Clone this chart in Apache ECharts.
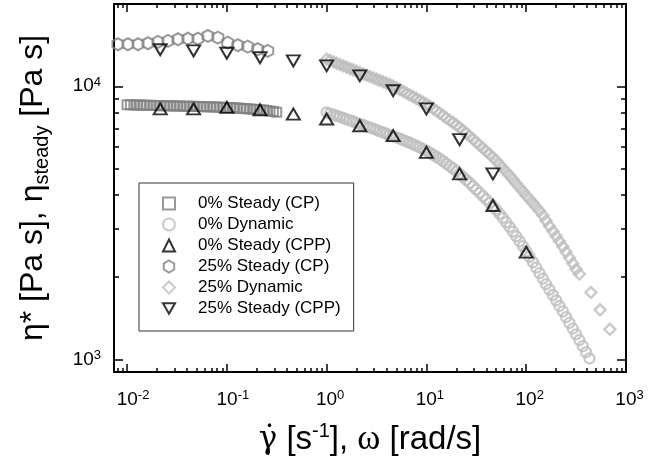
<!DOCTYPE html>
<html>
<head>
<meta charset="utf-8">
<script src="https://cdn.jsdelivr.net/npm/echarts@6/dist/echarts.min.js"></script>
<style>
html, body { margin: 0; padding: 0; background: #fff; }
#chart { width: 667px; height: 469px; }
</style>
</head>
<body>
<div id="chart"></div>
<script>
// 0% Steady (CP)
var cp0Rate = [0.01, 0.0108, 0.0117, 0.0126, 0.0136, 0.0147, 0.0158, 0.0171, 0.0185, 0.02, 0.0215, 0.0233, 0.0251, 0.0271, 0.0293, 0.0316, 0.0341, 0.0369, 0.0398, 0.043, 0.0464, 0.0501, 0.0541, 0.0584, 0.0631, 0.0681, 0.0736, 0.0794, 0.0858, 0.0926, 0.1, 0.108, 0.117, 0.126, 0.136, 0.147, 0.158, 0.171, 0.185, 0.2, 0.215, 0.233, 0.251, 0.271, 0.293, 0.316];
var cp0Eta = [8560, 8553, 8547, 8540, 8533, 8527, 8520, 8513, 8507, 8500, 8493, 8487, 8482, 8477, 8472, 8467, 8462, 8457, 8452, 8447, 8442, 8435, 8428, 8420, 8413, 8405, 8397, 8390, 8382, 8374, 8365, 8355, 8342, 8328, 8312, 8296, 8280, 8262, 8244, 8226, 8208, 8180, 8150, 8118, 8082, 8040];

// 0% Dynamic
var dyn0Freq = [1, 1.08, 1.17, 1.26, 1.36, 1.47, 1.58, 1.71, 1.85, 2, 2.15, 2.33, 2.51, 2.71, 2.93, 3.16, 3.41, 3.69, 3.98, 4.3, 4.64, 5.01, 5.41, 5.84, 6.31, 6.81, 7.36, 7.94, 8.58, 9.26, 10, 10.8, 11.7, 12.6, 13.6, 14.7, 15.8, 17.1, 18.5, 20, 21.5, 23.3, 25.1, 27.1, 29.3, 31.6, 34.1, 36.9, 39.8, 43, 46.4, 50.1, 54.1, 58.4, 63.1, 68.1, 73.6, 79.4, 85.8, 92.6, 100, 108, 117, 126, 136, 147, 158, 171, 185, 200, 215, 233, 251, 271, 293, 316, 341, 369, 398, 430];
var dyn0Eta = [8017, 7943, 7870, 7798, 7727, 7656, 7568, 7499, 7430, 7345, 7278, 7211, 7129, 7063, 6998, 6918, 6839, 6776, 6699, 6622, 6561, 6501, 6427, 6353, 6281, 6209, 6124, 6053, 5970, 5888, 5808, 5715, 5610, 5521, 5420, 5321, 5212, 5105, 5000, 4887, 4775, 4656, 4539, 4426, 4305, 4188, 4074, 3963, 3855, 3741, 3639, 3532, 3412, 3296, 3177, 3055, 2938, 2825, 2710, 2600, 2489, 2377, 2270, 2168, 2070, 1977, 1888, 1803, 1722, 1644, 1570, 1500, 1429, 1361, 1297, 1236, 1178, 1119, 1064, 1009];

// 0% Steady (CPP)
var cpp0Rate = [0.0215, 0.0464, 0.1, 0.215, 0.464, 1, 2.15, 4.64, 10, 21.5, 46.4, 100];
var cpp0Eta = [8260, 8260, 8370, 8200, 7910, 7590, 7170, 6600, 5730, 4780, 3660, 2470];

// 25% Steady (CP)
var cp25Rate = [0.0081, 0.0102, 0.0129, 0.0162, 0.0204, 0.0257, 0.0324, 0.0407, 0.0513, 0.0646, 0.0813, 0.102, 0.129, 0.162, 0.204, 0.257];
var cp25Eta = [14250, 14250, 14250, 14370, 14530, 14650, 14860, 14930, 14930, 15280, 15070, 14450, 14130, 13960, 13660, 13470];

// 25% Dynamic
var dyn25Freq = [1, 1.08, 1.17, 1.26, 1.36, 1.47, 1.58, 1.71, 1.85, 2, 2.15, 2.33, 2.51, 2.71, 2.93, 3.16, 3.41, 3.69, 3.98, 4.3, 4.64, 5.01, 5.41, 5.84, 6.31, 6.81, 7.36, 7.94, 8.58, 9.26, 10, 10.8, 11.7, 12.6, 13.6, 14.7, 15.8, 17.1, 18.5, 20, 21.5, 23.3, 25.1, 27.1, 29.3, 31.6, 34.1, 36.9, 39.8, 43, 46.4, 50.1, 54.1, 58.4, 63.1, 68.1, 73.6, 79.4, 85.8, 92.6, 100, 108, 117, 126, 136, 147, 158, 171, 185, 200, 215, 233, 251, 271, 293, 316, 341, 445, 550, 690];
var dyn25Eta = [12560, 12428, 12286, 12134, 12004, 11877, 11749, 11607, 11474, 11350, 11228, 11100, 10965, 10847, 10732, 10617, 10503, 10383, 10257, 10146, 10023, 9886, 9735, 9588, 9441, 9297, 9157, 9016, 8879, 8745, 8610, 8453, 8293, 8128, 7967, 7811, 7656, 7504, 7356, 7211, 7058, 6897, 6730, 6567, 6408, 6237, 6085, 5933, 5781, 5640, 5491, 5333, 5172, 5016, 4864, 4710, 4560, 4406, 4260, 4119, 3981, 3861, 3738, 3614, 3494, 3363, 3221, 3076, 2944, 2825, 2706, 2588, 2472, 2357, 2247, 2138, 2055, 1760, 1520, 1290];

// 25% Steady (CPP)
var cpp25Rate = [0.0215, 0.0464, 0.1, 0.215, 0.464, 1, 2.15, 4.64, 10, 21.5, 46.4];
var cpp25Eta = [13600, 13470, 13210, 12730, 12390, 11880, 10920, 9630, 8260, 6380, 4780];

// ticks
var xMajorTicks = [0.01, 0.1, 1, 10, 100, 1000];
var xMinorTicks = [0.008, 0.009, 0.02, 0.03, 0.04, 0.05, 0.06, 0.07, 0.08, 0.09, 0.2, 0.3, 0.4, 0.5, 0.6, 0.7, 0.8, 0.9, 2, 3, 4, 5, 6, 7, 8, 9, 20, 30, 40, 50, 60, 70, 80, 90, 200, 300, 400, 500, 600, 700, 800, 900];
var yMajorTicks = [1000, 10000];
var yMinorTicks = [2000, 3000, 4000, 5000, 6000, 7000, 8000, 9000];

var FONT = '"Liberation Sans", Arial, sans-serif';
var SERIF = '"DejaVu Serif", "Liberation Serif", serif';
var HEX = 'path://M0,-10 L8.66,-5 L8.66,5 L0,10 L-8.66,5 L-8.66,-5 Z';
var DOWN = 'path://M0,0 L12,0 L6,10.4 Z';
var NOFILL = 'rgba(0,0,0,0)';
var GREY = '#808080';
var LIGHT = '#bdbdbd';

function pairs(xs, ys) {
    var out = [];
    for (var i = 0; i < xs.length; i++) out.push([xs[i], ys[i]]);
    return out;
}

function exponent(v) {
    return Math.round(Math.log(v) / Math.LN10);
}

// x labels: keep "10" centred on the tick, the exponent hangs to the right
function xLabel(v) {
    var e = exponent(v);
    return '{' + (e < 0 ? 'pn' : 'pp') + '| }{b|10}{s|' + e + '}';
}
function yLabel(v) {
    return '{b|10}{s|' + exponent(v) + '}';
}

var labelRich = {
    b: { fontSize: 19, fontFamily: FONT, color: '#000', lineHeight: 21 },
    s: { fontSize: 13, fontFamily: FONT, color: '#000', verticalAlign: 'top', lineHeight: 13 },
    pn: { width: 12, fontSize: 13 },
    pp: { width: 7, fontSize: 13 }
};

function xAxisDef(pos, ticks, len, main) {
    return {
        type: 'log', logBase: 10, min: 0.0074, max: 1000, position: pos,
        axisLine: { show: main, onZero: false, lineStyle: { color: '#000', width: 2 } },
        axisTick: { show: true, inside: true, length: len, customValues: ticks, lineStyle: { color: '#000', width: 1.5 } },
        axisLabel: main && pos === 'bottom'
            ? { show: true, customValues: xMajorTicks, formatter: xLabel, margin: 17, rich: labelRich }
            : { show: false },
        splitLine: { show: false }
    };
}

function yAxisDef(pos, ticks, len, main) {
    return {
        type: 'log', logBase: 10, min: 900, max: 20000, position: pos,
        axisLine: { show: main, onZero: false, lineStyle: { color: '#000', width: 2 } },
        axisTick: { show: true, inside: true, length: len, customValues: ticks, lineStyle: { color: '#000', width: 1.5 } },
        axisLabel: main && pos === 'left'
            ? { show: true, customValues: yMajorTicks, formatter: yLabel, margin: 13, rich: labelRich }
            : { show: false },
        splitLine: { show: false }
    };
}

var xAxes = [
    xAxisDef('bottom', xMajorTicks, 8, true),
    xAxisDef('bottom', xMinorTicks, 4, false),
    xAxisDef('top', xMajorTicks, 8, true),
    xAxisDef('top', xMinorTicks, 4, false)
];
xAxes[0].name = '{g|\u03b3\u0307}{t| [s}{sup|-1}{t|], }{w|\u03c9}{t| [rad/s]}';
xAxes[0].nameLocation = 'middle';
xAxes[0].nameGap = 49;
xAxes[0].nameTextStyle = {
    rich: {
        t: { fontSize: 33, fontFamily: FONT, color: '#000', lineHeight: 38 },
        g: { fontSize: 31, fontFamily: SERIF, color: '#000', lineHeight: 38 },
        w: { fontSize: 35, fontFamily: '"Liberation Serif", serif', color: '#000', lineHeight: 38 },
        sup: { fontSize: 20, fontFamily: FONT, color: '#000', verticalAlign: 'top', lineHeight: 20 }
    }
};

var yAxes = [
    yAxisDef('left', yMajorTicks, 9, true),
    yAxisDef('left', yMinorTicks, 5, false),
    yAxisDef('right', yMajorTicks, 9, true),
    yAxisDef('right', yMinorTicks, 5, false)
];
yAxes[0].name = '{t|\u03b7* [Pa s], \u03b7}{sub|steady}{t| [Pa s]}';
yAxes[0].nameLocation = 'middle';
yAxes[0].nameRotate = 90;
yAxes[0].nameGap = 62;
yAxes[0].nameTextStyle = {
    rich: {
        t: { fontSize: 32, fontFamily: FONT, color: '#000', lineHeight: 37 },
        sub: { fontSize: 20, fontFamily: FONT, color: '#000', verticalAlign: 'bottom', lineHeight: 20 }
    }
};

function scatter(name, xs, ys, symbol, size, stroke, keep, width) {
    return {
        name: name, type: 'scatter', xAxisIndex: 0, yAxisIndex: 0,
        data: pairs(xs, ys), symbol: symbol, symbolSize: size, symbolKeepAspect: keep,
        itemStyle: { color: NOFILL, borderColor: stroke, borderWidth: width },
        emphasis: { disabled: true }, animation: false
    };
}

var names = ['0% Steady (CP)', '0% Dynamic', '0% Steady (CPP)', '25% Steady (CP)', '25% Dynamic', '25% Steady (CPP)'];

var chart = echarts.init(document.getElementById('chart'), null, { renderer: 'canvas' });
chart.setOption({
    animation: false,
    backgroundColor: '#fff',
    grid: { left: 114, right: 41, top: 4, bottom: 97, containLabel: false },
    xAxis: xAxes,
    yAxis: yAxes,
    legend: {
        orient: 'vertical', left: 139, top: 183,
        padding: [12, 13, 14, 23], itemGap: 4, itemWidth: 12, itemHeight: 12,
        borderColor: '#333', borderWidth: 1, backgroundColor: '#fff',
        selectedMode: false,
        itemStyle: { borderWidth: 2 },
        textStyle: { fontFamily: FONT, fontSize: 17, color: '#000', padding: [0, 0, 0, 18] },
        data: [
            { name: names[0], icon: 'rect', itemStyle: { color: NOFILL, borderColor: GREY, borderWidth: 2 } },
            { name: names[1], icon: 'circle', itemStyle: { color: NOFILL, borderColor: LIGHT, borderWidth: 2 } },
            { name: names[2], icon: 'triangle', itemStyle: { color: NOFILL, borderColor: '#000', borderWidth: 2 } },
            { name: names[3], icon: HEX, itemStyle: { color: NOFILL, borderColor: GREY, borderWidth: 2 } },
            { name: names[4], icon: 'diamond', itemStyle: { color: NOFILL, borderColor: LIGHT, borderWidth: 2 } },
            { name: names[5], icon: DOWN, itemStyle: { color: NOFILL, borderColor: '#000', borderWidth: 2 } }
        ]
    },
    series: [
        scatter(names[0], cp0Rate, cp0Eta, 'rect', 9, GREY, true, 2),
        scatter(names[1], dyn0Freq, dyn0Eta, 'circle', 10, LIGHT, true, 2.4),
        scatter(names[2], cpp0Rate, cpp0Eta, 'triangle', [13, 11], '#000', false, 2),
        scatter(names[3], cp25Rate, cp25Eta, HEX, [11, 12], GREY, false, 2),
        scatter(names[4], dyn25Freq, dyn25Eta, 'diamond', 11, LIGHT, true, 2.4),
        scatter(names[5], cpp25Rate, cpp25Eta, DOWN, [13, 11], '#000', false, 2)
    ]
});
</script>
</body>
</html>
